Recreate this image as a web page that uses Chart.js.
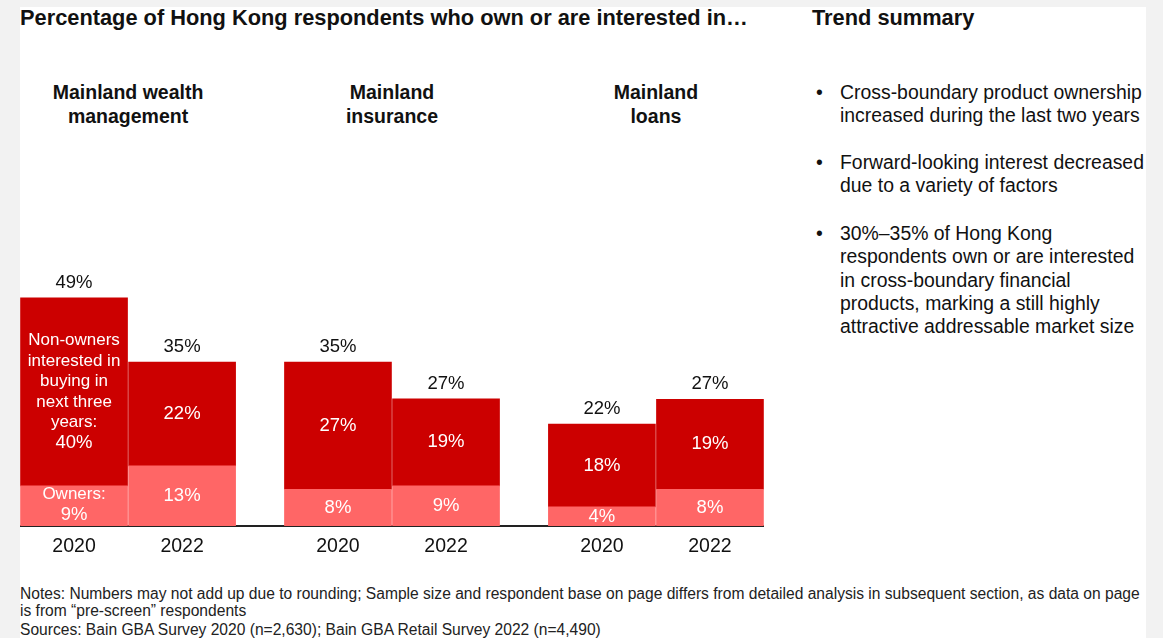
<!DOCTYPE html>
<html>
<head>
<meta charset="utf-8">
<script src="https://cdn.jsdelivr.net/npm/chart.js@4/dist/chart.umd.min.js"></script>
<style>
  body { margin: 0; background: #f2f2f2; font-family: "Liberation Sans", Arial, sans-serif; color: #111; }
  #page { position: absolute; left: 20px; top: 7px; width: 1126px; height: 631px; background: #fff; }
  .abs { position: absolute; white-space: nowrap; }
  .title { font-weight: bold; font-size: 21.8px; line-height: 24px; }
  .group { font-weight: bold; font-size: 19.5px; line-height: 24px; text-align: center; width: 220px; }
  .bullet { font-size: 19.4px; line-height: 23.3px; }
  .bullet span.dot { position: absolute; left: -24px; }
  .notes { font-size: 15.6px; line-height: 17px; color: #222; }
  #chartBox { position: absolute; left: 20px; top: 200px; }
</style>
</head>
<body>
<div id="page"></div>
<div class="abs title" style="left:20px; top:6px;">Percentage of Hong Kong respondents who own or are interested in…</div>
<div class="abs title" style="left:812px; top:6px;">Trend summary</div>

<div id="groupTitles"></div>

<div class="abs bullet" style="left:840px; top:81px;"><span class="dot">•</span>Cross-boundary product ownership<br>increased during the last two years</div>
<div class="abs bullet" style="left:840px; top:151px;"><span class="dot">•</span>Forward-looking interest decreased<br>due to a variety of factors</div>
<div class="abs bullet" style="left:840px; top:222px;"><span class="dot">•</span>30%–35% of Hong Kong<br>respondents own or are interested<br>in cross-boundary financial<br>products, marking a still highly<br>attractive addressable market size</div>

<div class="abs notes" style="left:20px; top:585px;">Notes: Numbers may not add up due to rounding; Sample size and respondent base on page differs from detailed analysis in subsequent section, as data on page<br>is from “pre-screen” respondents</div>
<div class="abs notes" style="left:20px; top:621px;">Sources: Bain GBA Survey 2020 (n=2,630); Bain GBA Retail Survey 2022 (n=4,490)</div>

<div id="chartBox"><canvas id="myChart" width="744" height="370"></canvas></div>

<script>
// data (bar heights; labels shown rounded)
var groups = [["Mainland wealth", "management"], ["Mainland", "insurance"], ["Mainland", "loans"]];
var years = ["2020", "2022"];
var owners = [8.6, 12.9, 7.9, 8.6, 4.1, 7.9];
var nonOwners = [40.4, 22.3, 27.3, 18.7, 17.8, 19.3];
var totals = [49, 35, 35, 27, 22, 27];
var firstNonOwnerText = ["Non-owners", "interested in", "buying in", "next three", "years:"];
var firstOwnerText = ["Owners:"];

var DARK = "#cc0000";
var LIGHT = "#ff6666";
var GAP = 0.4424; // gap between groups, in bar widths

// bar positions on the linear x axis
var xs = [];
for (var g = 0; g < groups.length; g++) {
    for (var i = 0; i < years.length; i++) {
        xs.push(g * (years.length + GAP) + i);
    }
}

function pts(vals) {
    return vals.map(function (v, k) { return {x: xs[k], y: v}; });
}

// labels inside and above the bars
var barLabels = {
    id: 'barLabels',
    afterDatasetsDraw: function (chart) {
        var c = chart.ctx;
        var own = chart.getDatasetMeta(0).data;
        var non = chart.getDatasetMeta(1).data;
        var wordFont = '17px "Liberation Sans", Arial, sans-serif';
        var numFont = '18.5px "Liberation Sans", Arial, sans-serif';
        c.save();
        c.textAlign = 'center';
        c.textBaseline = 'middle';
        function lines(arr, x, cy) {
            var lh = 20.6;
            arr.forEach(function (t, j) {
                c.font = (j === arr.length - 1) ? numFont : wordFont;
                c.fillText(t, x, cy + (j - (arr.length - 1) / 2) * lh);
            });
        }
        for (var k = 0; k < xs.length; k++) {
            c.fillStyle = '#fff';
            // non-owners
            var linesN = (k === 0 ? firstNonOwnerText : []).concat([Math.round(nonOwners[k]) + '%']);
            lines(linesN, non[k].x, (non[k].y + non[k].base) / 2);
            // owners
            var linesO = (k === 0 ? firstOwnerText : []).concat([Math.round(owners[k]) + '%']);
            lines(linesO, own[k].x, (own[k].y + own[k].base) / 2 + (k === 0 ? -1.5 : 0));
            // total
            c.fillStyle = '#111';
            c.font = numFont;
            c.fillText(totals[k] + '%', non[k].x, non[k].y - 15);
        }
        c.restore();
    }
};

window.onload = main;

function main() {
    var ctx = document.getElementById("myChart").getContext("2d");
    var chart = new Chart(ctx, {
        type: 'bar',
        data: {
            datasets: [
                {label: 'Owners', data: pts(owners), backgroundColor: LIGHT, barThickness: 107, borderWidth: 0},
                {label: 'Non-owners', data: pts(nonOwners), backgroundColor: DARK, barThickness: 107, borderWidth: 0}
            ]
        },
        options: {
            responsive: false,
            animation: false,
            devicePixelRatio: 1,
            layout: {padding: 0},
            plugins: {legend: {display: false}, tooltip: {enabled: false}},
            scales: {
                x: {
                    type: 'linear',
                    stacked: true,
                    offset: false,
                    min: -0.5,
                    max: xs[xs.length - 1] + 0.5,
                    grid: {display: false, drawTicks: false, offset: false},
                    border: {display: true, color: '#222', width: 2},
                    afterBuildTicks: function (axis) {
                        axis.ticks = xs.map(function (v) { return {value: v}; });
                    },
                    afterFit: function (axis) { axis.height = 44; },
                    ticks: {
                        autoSkip: false,
                        maxRotation: 0,
                        padding: 9,
                        color: '#111',
                        font: {family: '"Liberation Sans", Arial, sans-serif', size: 19.5},
                        callback: function (v, idx) { return years[idx % years.length]; }
                    }
                },
                y: {
                    stacked: true,
                    display: false,
                    min: 0,
                    max: 70
                }
            }
        },
        plugins: [barLabels]
    });

    // group titles centred over each pair of bars
    var box = document.getElementById('groupTitles');
    var sx = chart.scales.x;
    groups.forEach(function (lines, g) {
        var mid = (xs[g * 2] + xs[g * 2 + 1]) / 2;
        var px = 20 + sx.getPixelForValue(mid);
        var d = document.createElement('div');
        d.className = 'abs group';
        d.style.left = (px - 110) + 'px';
        d.style.top = '80px';
        d.innerHTML = lines.join('<br>');
        box.appendChild(d);
    });
}
</script>
</body>
</html>
